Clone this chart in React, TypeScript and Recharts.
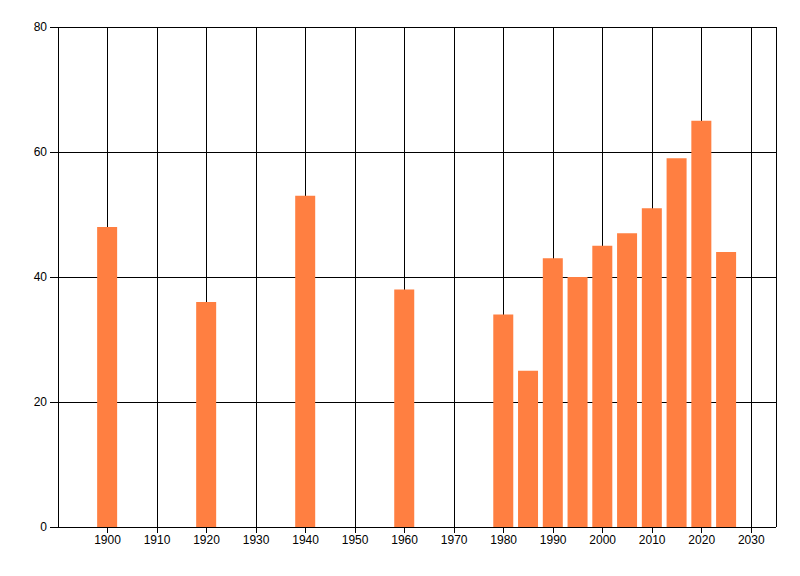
import { BarChart, Bar, XAxis, YAxis, CartesianGrid } from "recharts"

const years = [1900, 1920, 1940, 1960, 1980, 1985, 1990, 1995, 2000, 2005, 2010, 2015, 2020, 2025]
const values = [48, 36, 53, 38, 34, 25, 43, 40, 45, 47, 51, 59, 65, 44]
const xTicks = [1900, 1910, 1920, 1930, 1940, 1950, 1960, 1970, 1980, 1990, 2000, 2010, 2020, 2030]
const yTicks = [0, 20, 40, 60, 80]

const data = years.map((year, i) => ({ year, value: values[i] }))

const tickStyle = { fill: "#000", fontSize: 12, fontFamily: "Liberation Sans, Arial, sans-serif" }

export default function App() {
  return (
    <div style={{ position: "absolute", left: 0, top: 0, width: 800, height: 576, background: "#fff" }}>
      <style>{`.recharts-wrapper line { shape-rendering: crispEdges; }`}</style>
      <BarChart width={800} height={576} data={data} margin={{ top: 27, right: 24, left: 0, bottom: 19 }}>
        <CartesianGrid stroke="#000" strokeWidth={1} />
        <XAxis
          dataKey="year"
          type="number"
          domain={[1890, 2035]}
          ticks={xTicks}
          height={30}
          stroke="#000"
          tickSize={6}
          tickMargin={2}
          tick={tickStyle}
          interval={0}
        />
        <YAxis
          type="number"
          domain={[0, 80]}
          ticks={yTicks}
          width={58}
          stroke="#000"
          tickSize={8}
          tickMargin={3}
          tick={tickStyle}
        />
        <Bar dataKey="value" fill="#ff7f41" barSize={20} isAnimationActive={false} />
      </BarChart>
    </div>
  )
}
